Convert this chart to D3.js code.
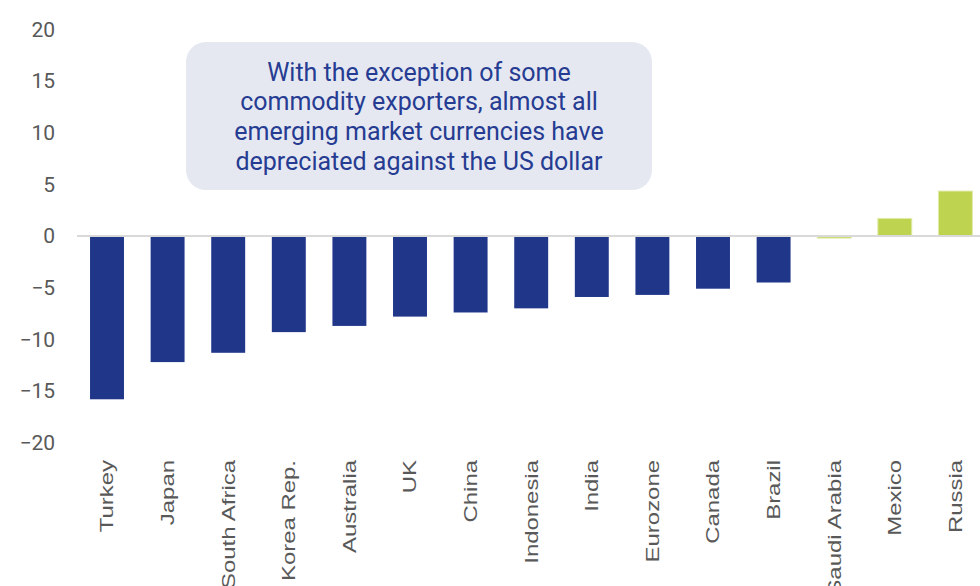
<!DOCTYPE html>
<html>
<head>
<meta charset="utf-8">
<script src="https://cdn.jsdelivr.net/npm/d3@7"></script>
<style>
  html, body { margin: 0; padding: 0; background: #fff; }
  svg { display: block; }
</style>
</head>
<body>
<div id="chart"></div>
<script>
// currencies vs US dollar, % change
const countries = ["Turkey", "Japan", "South Africa", "Korea Rep.", "Australia", "UK", "China",
    "Indonesia", "India", "Eurozone", "Canada", "Brazil", "Saudi Arabia", "Mexico", "Russia"];
const changes = [-15.8, -12.2, -11.3, -9.3, -8.7, -7.8, -7.4, -7.0, -5.9, -5.7, -5.1, -4.5, -0.2, 1.7, 4.35];
const yTicks = [20, 15, 10, 5, 0, -5, -10, -15, -20];
const noteLines = ["With the exception of some", "commodity exporters, almost all",
    "emerging market currencies have", "depreciated against the US dollar"];

const w = 980, h = 586;
const navy = "#1f3689", green = "#bed34f";

const svg = d3.select("#chart").append("svg")
    .attr("width", w)
    .attr("height", h);

const x = d3.scaleBand()
    .domain(countries)
    .range([76.7, 985.7])
    .paddingInner(0.44)
    .paddingOuter(0.22);

const y = d3.scaleLinear()
    .domain([-20, 20])
    .range([442.7, 29.3]);

// y axis labels only
const yAxis = svg.append("g")
    .attr("transform", "translate(55,0)")
    .call(d3.axisLeft(y).tickValues(yTicks).tickSize(0).tickPadding(0).tickFormat(d3.format("d")));
yAxis.select(".domain").remove();
yAxis.selectAll("text")
    .style("font-family", "Roboto")
    .style("font-size", "21px")
    .attr("fill", "#595959");

// note box
const note = svg.append("g");
note.append("rect")
    .attr("x", 186).attr("y", 42)
    .attr("width", 466).attr("height", 148)
    .attr("rx", 20).attr("ry", 20)
    .attr("fill", "#e6e8f1");
note.selectAll("text")
    .data(noteLines)
    .enter()
    .append("text")
    .attr("x", 419)
    .attr("y", (d, i) => 72 + i * 29.6)
    .attr("dy", "0.35em")
    .attr("text-anchor", "middle")
    .style("font-family", "Roboto")
    .style("font-size", "25px")
    .attr("fill", "#253c92")
    .text(d => d);

// bars
svg.append("g")
    .selectAll("rect")
    .data(countries)
    .enter()
    .append("rect")
    .attr("x", d => x(d))
    .attr("width", x.bandwidth())
    .attr("y", (d, i) => y(Math.max(0, changes[i])))
    .attr("height", (d, i) => Math.abs(y(changes[i]) - y(0)))
    .attr("fill", (d, i) => changes[i] < 0 && i < 12 ? navy : green)
    .attr("stroke", (d, i) => changes[i] < 0 && i < 12 ? "none" : "#e2eaa8")
    .attr("stroke-width", 1);

// zero line
svg.append("line")
    .attr("x1", 77).attr("x2", w)
    .attr("y1", y(0)).attr("y2", y(0))
    .attr("stroke", "#d9d9d9")
    .attr("stroke-width", 2);

// category labels, rotated
svg.append("g")
    .selectAll("text")
    .data(countries)
    .enter()
    .append("text")
    .attr("transform", d => "translate(" + (x(d) + x.bandwidth() / 2) + ",460) rotate(-90) scale(1.33,1)")
    .attr("dy", "0.35em")
    .attr("text-anchor", "end")
    .style("font-family", "Liberation Sans")
    .style("font-size", "18px")
    .attr("fill", "#595959")
    .text(d => d);
</script>
</body>
</html>
